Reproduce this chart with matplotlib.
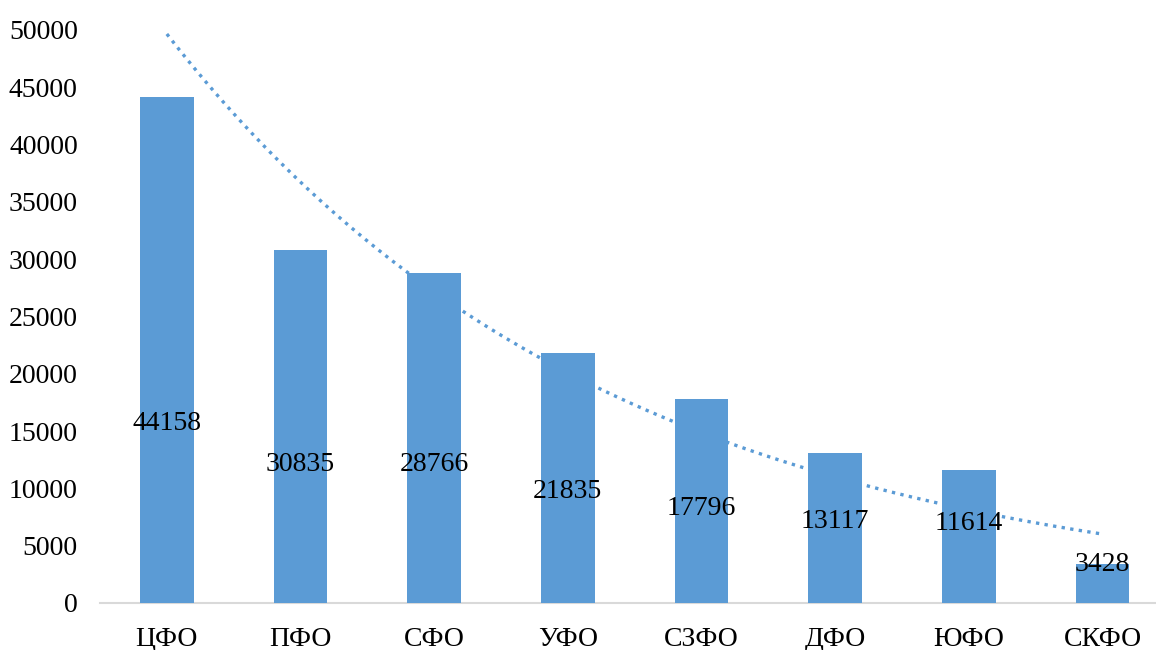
import numpy as np
import matplotlib.pyplot as plt

plt.rcParams['font.family'] = ['Liberation Serif', 'DejaVu Serif']

# data
districts = ['ЦФО', 'ПФО', 'СФО', 'УФО', 'СЗФО', 'ДФО', 'ЮФО', 'СКФО']
values = [44158, 30835, 28766, 21835, 17796, 13117, 11614, 3428]
y_ticks = [0, 5000, 10000, 15000, 20000, 25000, 30000, 35000, 40000, 45000, 50000]

# where the value labels sit (data units, as placed in the original)
label_y = [15700, 12100, 12100, 9700, 8250, 7100, 6950, 3400]

blue = '#5b9bd5'

fig = plt.figure(figsize=(11.56, 6.5), dpi=100)
ax = fig.add_axes([100 / 1156, 47 / 650, 1056 / 1156, 573 / 650])

x = np.arange(len(districts))
ax.bar(x, values, width=0.4, color=blue, zorder=3)

# exponential trend line fitted to the values
xs = np.linspace(0, len(values) - 1, 200)
b, a = np.polyfit(x + 1, np.log(values), 1)
ax.plot(xs, np.exp(a + b * (xs + 1)), color=blue, linestyle=(0, (1, 1.6)),
        linewidth=2.4, zorder=2)

for xi, v, ly in zip(x, values, label_y):
    ax.text(xi, ly, str(v), ha='center', va='center', fontsize=20, zorder=4)

ax.set_xlim(-0.5, 7.4)
ax.set_ylim(0, 50000)
ax.set_xticks(x)
ax.set_xticklabels(districts, fontsize=20)
ax.set_yticks(y_ticks)
ax.set_yticklabels([str(t) for t in y_ticks], fontsize=20)
ax.tick_params(axis='both', length=0)
ax.tick_params(axis='y', pad=16)
ax.tick_params(axis='x', pad=17)

for s in ['top', 'right', 'left']:
    ax.spines[s].set_visible(False)
ax.spines['bottom'].set_color('#d9d9d9')
ax.spines['bottom'].set_linewidth(1.5)

fig.savefig('out.png', dpi=100)
